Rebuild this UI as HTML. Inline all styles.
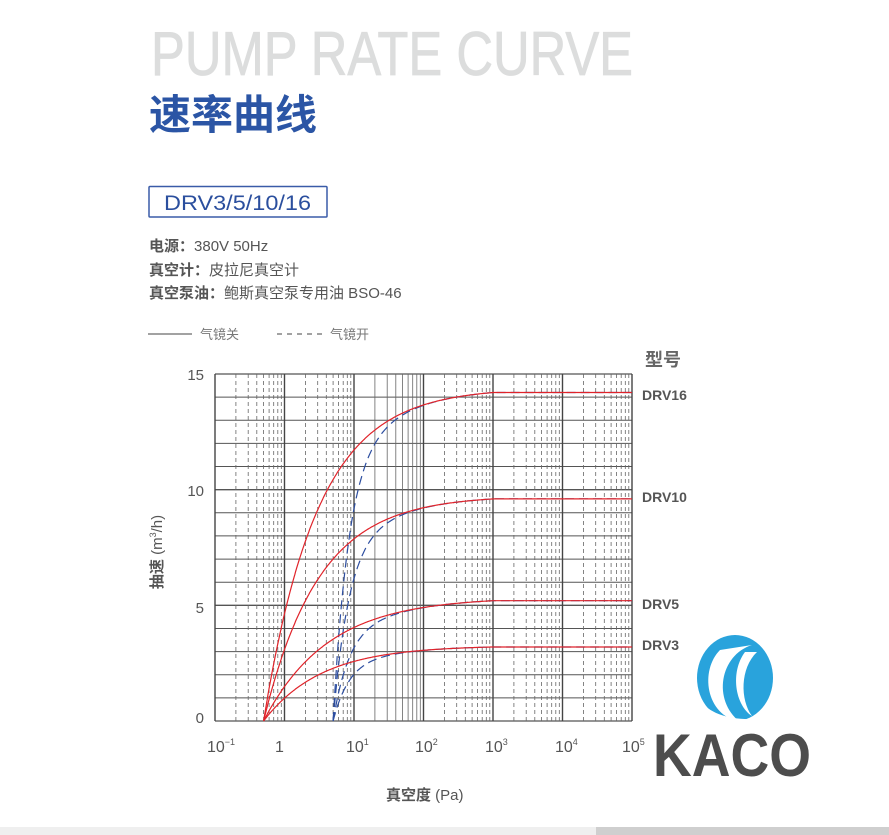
<!DOCTYPE html>
<html><head><meta charset="utf-8"><style>
html,body{margin:0;padding:0;background:#fff;width:889px;height:835px;overflow:hidden}
svg{display:block}
text{font-family:"Liberation Sans","Noto Sans CJK SC",sans-serif}
</style></head><body>
<svg id="s" width="889" height="835" viewBox="0 0 889 835" xmlns="http://www.w3.org/2000/svg">
<text x="151" y="75" font-size="62" fill="#dcdddd" stroke="#dcdddd" stroke-width="0.8" textLength="482" lengthAdjust="spacingAndGlyphs">PUMP RATE CURVE</text>
<text x="149" y="129" font-size="41" font-weight="bold" fill="#2b55a5" textLength="168" lengthAdjust="spacingAndGlyphs">速率曲线</text>
<rect x="149" y="186.5" width="178" height="30.5" fill="none" stroke="#3a5ba8" stroke-width="1.5" rx="1"/>
<text x="164" y="210" font-size="21" fill="#2b4f9e" textLength="147" lengthAdjust="spacingAndGlyphs">DRV3/5/10/16</text>
<g font-size="15" fill="#555">
<text x="149" y="251"><tspan font-weight="bold">电源：</tspan>380V 50Hz</text>
<text x="149" y="275"><tspan font-weight="bold">真空计：</tspan>皮拉尼真空计</text>
<text x="149" y="298"><tspan font-weight="bold">真空泵油：</tspan>鲍斯真空泵专用油 BSO-46</text>
</g>
<line x1="148" y1="334" x2="192" y2="334" stroke="#444" stroke-width="1"/>
<text x="200" y="339" font-size="13" fill="#777">气镜关</text>
<line x1="277" y1="334" x2="322" y2="334" stroke="#444" stroke-width="1" stroke-dasharray="5,5"/>
<text x="330" y="339" font-size="13" fill="#777">气镜开</text>
<text x="645" y="366" font-size="18" font-weight="bold" fill="#666">型号</text>
<g font-size="14" fill="#555" font-weight="bold">
<text x="642" y="400">DRV16</text>
<text x="642" y="502">DRV10</text>
<text x="642" y="609">DRV5</text>
<text x="642" y="650">DRV3</text>
</g>
<g font-size="15" fill="#555" text-anchor="end">
<text x="204" y="380">15</text>
<text x="204" y="496">10</text>
<text x="204" y="613">5</text>
<text x="204" y="723">0</text>
</g>
<g id="grid"></g>
<g id="curves"></g>
<g font-size="16" fill="#555">
<text x="207" y="752">10<tspan font-size="9" dy="-7">−1</tspan></text>
<text x="275" y="752">1</text>
<text x="346" y="752">10<tspan font-size="9" dy="-7">1</tspan></text>
<text x="415" y="752">10<tspan font-size="9" dy="-7">2</tspan></text>
<text x="485" y="752">10<tspan font-size="9" dy="-7">3</tspan></text>
<text x="555" y="752">10<tspan font-size="9" dy="-7">4</tspan></text>
<text x="622" y="752">10<tspan font-size="9" dy="-7">5</tspan></text>
</g>
<text x="386" y="800" font-size="15" fill="#555" font-weight="bold">真空度 <tspan font-weight="normal">(Pa)</tspan></text>
<text transform="translate(162,552) rotate(-90)" text-anchor="middle" font-size="15" fill="#555"><tspan font-weight="bold">抽速</tspan> (m<tspan font-size="9" dy="-6">3</tspan><tspan dy="6">/h)</tspan></text>
<ellipse cx="735" cy="678" rx="38" ry="43" fill="#29a3dc"/>
<path d="M752 645 C720 655 712 700 740 722 C705 715 700 670 720 650 Z" fill="#fff"/>
<path d="M757 652 C740 668 740 700 752 716 C735 705 730 672 745 652 Z" fill="#fff"/>
<path d="M700 700 C710 715 735 722 765 718 L772 722 L700 722 Z" fill="#fff"/>
<text x="653" y="776" font-size="60" font-weight="bold" fill="#4d4d4d" textLength="158" lengthAdjust="spacingAndGlyphs">KACO</text>
<rect x="0" y="827" width="889" height="8" fill="#efefef"/>
<rect x="596" y="827" width="293" height="8" fill="#cfcfcf"/>
</svg>
<script>
var L=215,R=632,T=374,B=721,D=(R-L)/6,U=(B-T)/15;
function X(p){return L+(Math.log10(p)+1)*D}
function Y(v){return B-v*U}
var g='';
for(var i=0;i<=15;i++){var y=Y(i).toFixed(1);g+='<line x1="'+L+'" x2="'+R+'" y1="'+y+'" y2="'+y+'" stroke="#555" stroke-width="'+(i%5==0?1.3:1)+'"/>';}
for(var d=-1;d<5;d++){for(var m=2;m<=9;m++){var x=X(m*Math.pow(10,d)).toFixed(1);
g+='<line x1="'+x+'" x2="'+x+'" y1="'+T+'" y2="'+B+'" stroke="#666" stroke-width="0.8"'+(d==1?'':' stroke-dasharray="4,3"')+'/>';}}
for(var d=-1;d<=5;d++){var x=X(Math.pow(10,d)).toFixed(1);g+='<line x1="'+x+'" x2="'+x+'" y1="'+T+'" y2="'+B+'" stroke="#444" stroke-width="1.4"/>';}
document.getElementById('grid').innerHTML=g;
function red(S,k,p){var p0=0.5;if(p<=p0)return 0;if(p>=1000)return S;return S*(1-Math.pow(p0/p,k))/(1-Math.pow(p0/1000,k));}
function curve(S,k,col,dash){var pts=[];var st=dash?Math.log10(5):Math.log10(0.5);for(var lp=st;lp<=5.001;lp+=0.01){var p=Math.pow(10,lp);var v=red(S,k,p);if(dash)v*= (1-Math.pow(5/p,2.2));pts.push(X(p).toFixed(1)+','+Y(v).toFixed(1));}
return '<polyline fill="none" stroke="'+col+'" stroke-width="1.2" '+(dash?'stroke-dasharray="9,5" ':'')+'points="'+pts.join(' ')+'"/>';}
var c='';
var P=[[14.2,0.56],[9.6,0.55],[5.2,0.47],[3.2,0.52]];
P.forEach(function(a){c+=curve(a[0],a[1],'#2d4ea0',1);});
P.forEach(function(a){c+=curve(a[0],a[1],'#e0232a',0);});
document.getElementById('curves').innerHTML=c;
</script>
</body></html>
